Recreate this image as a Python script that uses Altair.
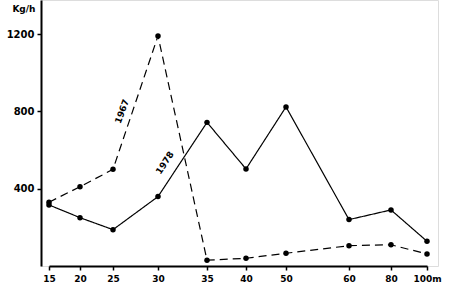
import altair as alt
import pandas as pd

distances = [15, 20, 25, 30, 35, 40, 50, 60, 80, 100]
catch_1967 = [330, 410, 500, 1190, 30, 40, 66, 105, 110, 62]
catch_1978 = [316, 250, 188, 359, 743, 502, 823, 240, 290, 128]
series_names = ["1967", "1978"]
tick_values_y = [400, 800, 1200]

rows = []
for d, v in zip(distances, catch_1967):
    rows.append({"dist": d, "kg": v, "year": "1967"})
for d, v in zip(distances, catch_1978):
    rows.append({"dist": d, "kg": v, "year": "1978"})
df = pd.DataFrame(rows)

labels = pd.DataFrame({
    "dist": [26, 30.7],
    "kg": [800, 533],
    "year": series_names,
    "ang": [290, 303],
})

FONT = "DejaVu Sans"
# piecewise (hand-drawn, uneven) distance axis
xscale = alt.Scale(domain=distances,
                   range=[8, 39, 72, 117, 166, 205, 245, 308, 350, 386],
                   nice=False, zero=False)
yscale = alt.Scale(domain=[0, 1376], nice=False, zero=True)

x_axis = alt.Axis(values=distances, title=None, grid=False,
                  domainColor="black", domainWidth=2, tickColor="black",
                  tickWidth=1.5, tickSize=4, labelPadding=4,
                  labelFont=FONT, labelFontWeight="bold", labelFontSize=9,
                  labelColor="black", labelFlush=False, labelOverlap=False,
                  labelExpr="datum.value == 100 ? '100m' : datum.label")
y_axis = alt.Axis(values=tick_values_y, title="Kg/h", grid=False, format="d",
                  domainColor="black", domainWidth=2, tickColor="black",
                  tickWidth=1.5, tickSize=4, labelPadding=3,
                  labelFont=FONT, labelFontWeight="bold", labelFontSize=10,
                  labelColor="black", labelFlush=False,
                  titleAngle=0, titleAlign="right",
                  titleX=-6, titleY=8, titleBaseline="middle",
                  titleFont=FONT, titleFontWeight="bold", titleFontSize=9,
                  titleColor="black")

base = alt.Chart(df)

lines = base.mark_line(color="black", strokeWidth=1.2).encode(
    x=alt.X("dist:Q", scale=xscale, axis=x_axis),
    y=alt.Y("kg:Q", scale=yscale, axis=y_axis),
    detail="year:N",
    strokeDash=alt.StrokeDash("year:N",
                              scale=alt.Scale(domain=series_names,
                                              range=[[8, 5], [1, 0]]),
                              legend=None),
    order="dist:Q",
)

points = base.mark_circle(color="black", size=30, opacity=1).encode(
    x=alt.X("dist:Q", scale=xscale),
    y=alt.Y("kg:Q", scale=yscale),
)

texts = alt.Chart(labels).mark_text(font=FONT, fontWeight="bold", fontSize=9,
                                    color="black").encode(
    x=alt.X("dist:Q", scale=xscale),
    y=alt.Y("kg:Q", scale=yscale),
    text="year:N",
    angle=alt.Angle("ang:Q", scale=None),
)

chart = alt.layer(lines, points, texts).properties(
    width=397, height=266,
    autosize=alt.AutoSizeParams(type="none"),
    padding={"left": 41, "top": 0, "right": 12, "bottom": 23},
).configure_view(stroke=None).configure(background="white")

chart.save("out.html", embed_options={"renderer": "svg", "actions": False})
